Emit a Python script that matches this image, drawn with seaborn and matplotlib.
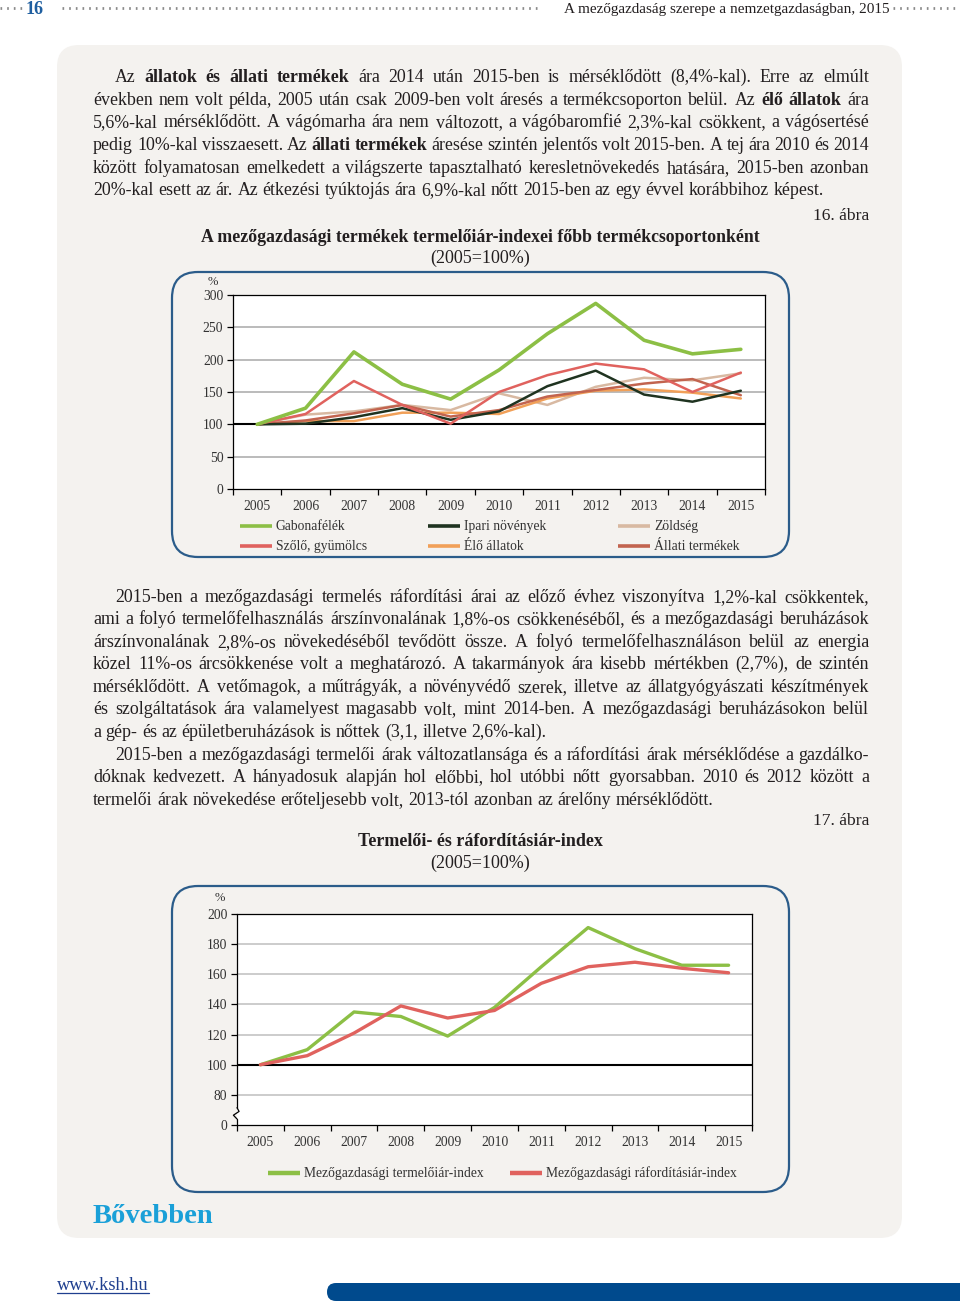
import matplotlib
matplotlib.use("Agg")
import matplotlib.pyplot as plt
import seaborn as sns
import numpy as np
import pandas as pd
from matplotlib.patches import FancyBboxPatch
from matplotlib.ticker import FixedLocator

sns.set_theme(style="white")
plt.rcParams['font.family'] = ['Liberation Serif', 'DejaVu Serif']

# ---------------- data ----------------
years = list(range(2005, 2016))
gabona = [100, 125, 212, 162, 139, 184, 240, 287, 230, 209, 216]
ipari = [100, 101, 111, 125, 107, 120, 159, 183, 146, 135, 152]
zoldseg = [100, 115, 120, 130, 122, 148, 130, 158, 172, 168, 179]
szolo = [100, 116, 167, 130, 101, 150, 176, 194, 185, 150, 180]
elo = [100, 105, 105, 118, 118, 116, 140, 152, 154, 149, 140]
allati = [100, 106, 117, 130, 112, 122, 143, 153, 163, 170, 145]
names1 = ["Gabonafélék", "Ipari növények", "Zöldség",
          "Szőlő, gyümölcs", "Élő állatok", "Állati termékek"]
values1 = [gabona, ipari, zoldseg, szolo, elo, allati]
y1_ticks = [0, 50, 100, 150, 200, 250, 300]

termelo = [100, 110, 135, 132, 119, 138, 165, 191, 177, 166, 166]
raford = [100, 106, 121, 139, 131, 136, 154, 165, 168, 164, 161]
names2 = ["Mezőgazdasági termelőiár-index", "Mezőgazdasági ráfordításiár-index"]
values2 = [termelo, raford]
y2_ticks = [60, 80, 100, 120, 140, 160, 180, 200]
y2_labels = ["0", "80", "100", "120", "140", "160", "180", "200"]

colors1 = {"Gabonafélék": "#8CBF45", "Ipari növények": "#1F3320",
           "Zöldség": "#D8B9A2", "Szőlő, gyümölcs": "#E0625E",
           "Élő állatok": "#F1A058", "Állati termékek": "#C2644F"}
widths1 = {"Gabonafélék": 2.6, "Ipari növények": 1.8, "Zöldség": 1.8,
           "Szőlő, gyümölcs": 1.8, "Élő állatok": 1.8, "Állati termékek": 1.8}
draw_order1 = ["Zöldség", "Élő állatok", "Állati termékek",
               "Ipari növények", "Szőlő, gyümölcs", "Gabonafélék"]
colors2 = {names2[0]: "#8CBF45", names2[1]: "#E0625E"}

df1 = pd.DataFrame({"Év": years * len(names1),
                    "Index": sum(values1, []),
                    "Csoport": np.repeat(names1, len(years))})
df2 = pd.DataFrame({"Év": years * len(names2),
                    "Index": sum(values2, []),
                    "Csoport": np.repeat(names2, len(years))})

# ---------------- page ----------------
W, H = 960, 1308
fig = plt.figure(figsize=(W / 100, H / 100), dpi=100)
fig.patch.set_facecolor("white")
bg = fig.add_axes([0, 0, 1, 1])
bg.set_xlim(0, W)
bg.set_ylim(H, 0)
bg.axis("off")
renderer = fig.canvas.get_renderer()

TXT = "#231F20"
PANEL = "#F4F2EF"
BORDER = "#2B5C8A"


def fx(x):
    return x / W


def fy(y):
    return 1 - y / H


# background panel
bg.add_patch(FancyBboxPatch((57, 45), 845, 1193,
                            boxstyle="round,pad=0,rounding_size=22",
                            fc=PANEL, ec="none", zorder=0))
# chart boxes
for (x0, y0, x1, y1) in [(172, 272, 789, 557), (172, 886, 789, 1192)]:
    bg.add_patch(FancyBboxPatch((x0, y0), x1 - x0, y1 - y0,
                                boxstyle="round,pad=0,rounding_size=26",
                                fc=PANEL, ec=BORDER, lw=1.6, zorder=1))

# header
for (a, b) in [(0, 26), (62, 540), (893, 960)]:
    bg.plot([a, b], [8, 8], color="#8A8A8A", lw=2.0, linestyle=(0, (0.6, 1.8)))
bg.text(35, 13.5, "16", color="#1F5FA0", fontsize=13, fontweight="bold",
        ha="center", va="baseline")
bg.text(890, 12.5, "A mezőgazdaság szerepe a nemzetgazdaságban, 2015",
        color=TXT, fontsize=11, ha="right", va="baseline")

FS = 12.9
space_w = FS * 100 / 72 * 0.25


def put_line(segs, x0, x1, yb, justify=True):
    words = []
    for text, bold in segs:
        for w in text.split():
            words.append((w, bold))
    arts, ws = [], []
    for w, b in words:
        t = bg.text(0, yb, w, fontsize=FS, color=TXT, va="baseline", ha="left",
                    fontweight="bold" if b else "normal")
        arts.append(t)
        ws.append(t.get_window_extent(renderer=renderer).width)
    if justify and len(words) > 1:
        gap = (x1 - x0 - sum(ws)) / (len(words) - 1)
        gap = max(gap, 1.5)
    else:
        gap = space_w
    x = x0
    for t, w in zip(arts, ws):
        t.set_x(x)
        x += w + gap


N = False
B = True
para1 = [
    [("Az", N), ("állatok és állati termékek", B), ("ára 2014 után 2015-ben is mérséklődött (8,4%-kal). Erre az elmúlt", N)],
    [("években nem volt példa, 2005 után csak 2009-ben volt áresés a termékcsoporton belül. Az", N), ("élő állatok", B), ("ára", N)],
    [("5,6%-kal mérséklődött. A vágómarha ára nem változott, a vágóbaromfié 2,3%-kal csökkent, a vágósertésé", N)],
    [("pedig 10%-kal visszaesett. Az", N), ("állati termékek", B), ("áresése szintén jelentős volt 2015-ben. A tej ára 2010 és 2014", N)],
    [("között folyamatosan emelkedett a világszerte tapasztalható keresletnövekedés hatására, 2015-ben azonban", N)],
    [("20%-kal esett az ár. Az étkezési tyúktojás ára 6,9%-kal nőtt 2015-ben az egy évvel korábbihoz képest.", N)],
]
ys1 = [82, 105, 127, 150, 173, 195]
for i, (segs, yb) in enumerate(zip(para1, ys1)):
    put_line(segs, 115 if i == 0 else 93, 869, yb, justify=(i < len(para1) - 1))

para2 = [
    ("2015-ben a mezőgazdasági termelés ráfordítási árai az előző évhez viszonyítva 1,2%-kal csökkentek,", 115, True),
    ("ami a folyó termelőfelhasználás árszínvonalának 1,8%-os csökkenéséből, és a mezőgazdasági beruházások", 93, True),
    ("árszínvonalának 2,8%-os növekedéséből tevődött össze. A folyó termelőfelhasználáson belül az energia", 93, True),
    ("közel 11%-os árcsökkenése volt a meghatározó. A takarmányok ára kisebb mértékben (2,7%), de szintén", 93, True),
    ("mérséklődött. A vetőmagok, a műtrágyák, a növényvédő szerek, illetve az állatgyógyászati készítmények", 93, True),
    ("és szolgáltatások ára valamelyest magasabb volt, mint 2014-ben. A mezőgazdasági beruházásokon belül", 93, True),
    ("a gép- és az épületberuházások is nőttek (3,1, illetve 2,6%-kal).", 93, False),
    ("2015-ben a mezőgazdasági termelői árak változatlansága és a ráfordítási árak mérséklődése a gazdálko-", 115, True),
    ("dóknak kedvezett. A hányadosuk alapján hol előbbi, hol utóbbi nőtt gyorsabban. 2010 és 2012 között a", 93, True),
    ("termelői árak növekedése erőteljesebb volt, 2013-tól azonban az árelőny mérséklődött.", 93, False),
]
ys2 = [602, 624, 647, 669, 692, 714, 737, 760, 782, 805]
for (txt, x0, just), yb in zip(para2, ys2):
    put_line([(txt, N)], x0, 869, yb, justify=just)

# captions and titles
bg.text(869, 220, "16. ábra", fontsize=12.6, color=TXT, ha="right", va="baseline")
bg.text(480, 242, "A mezőgazdasági termékek termelőiár-indexei főbb termékcsoportonként",
        fontsize=12.8, fontweight="bold", color=TXT, ha="center", va="baseline")
bg.text(480, 263, "(2005=100%)", fontsize=13, color=TXT, ha="center", va="baseline")
bg.text(869, 825, "17. ábra", fontsize=12.6, color=TXT, ha="right", va="baseline")
bg.text(480, 846, "Termelői- és ráfordításiár-index",
        fontsize=13, fontweight="bold", color=TXT, ha="center", va="baseline")
bg.text(480, 868, "(2005=100%)", fontsize=13, color=TXT, ha="center", va="baseline")

TICK_FS = 9.8
TICK_C = "#333333"


def style_axes(ax):
    ax.set_facecolor("white")
    for s in ax.spines.values():
        s.set_visible(True)
        s.set_color("black")
        s.set_linewidth(0.9)
    ax.set_xlim(2004.5, 2015.5)
    ax.set_xticks(years)
    ax.set_xticklabels([str(y) for y in years])
    ax.xaxis.set_minor_locator(FixedLocator([y + 0.5 for y in range(2004, 2016)]))
    ax.tick_params(axis="x", which="major", length=0, pad=8,
                   labelsize=TICK_FS, labelcolor=TICK_C)
    ax.tick_params(axis="x", which="minor", length=4, width=0.9,
                   direction="out", color="black", bottom=True)
    ax.tick_params(axis="y", which="major", length=4, width=0.9, direction="out",
                   color="black", left=True, pad=3, labelsize=TICK_FS,
                   labelcolor=TICK_C)
    ax.set_xlabel("")
    ax.set_ylabel("")
    ax.grid(False)


# ---------------- chart 1 ----------------
ax1 = fig.add_axes([fx(233), fy(489), (765 - 233) / W, (489 - 295) / H])
ax1.set_zorder(2)
for yv in y1_ticks:
    if yv not in (0, 100, 300):
        ax1.axhline(yv, color="#B5B5B5", lw=1.3, zorder=1)
ax1.axhline(100, color="black", lw=1.5, zorder=1.5)
for nm in draw_order1:
    sns.lineplot(data=df1[df1["Csoport"] == nm], x="Év", y="Index",
                 color=colors1[nm], linewidth=widths1[nm], ax=ax1,
                 legend=False, zorder=3)
style_axes(ax1)
ax1.set_ylim(0, 300)
ax1.set_yticks(y1_ticks)
ax1.set_yticklabels([str(v) for v in y1_ticks])
bg.text(213, 285, "%", fontsize=9, color=TICK_C, ha="center", va="baseline")

# legend 1 (3 columns x 2 rows)
leg_cols = [240, 428, 618]
leg_rows = [526, 546]
for i, nm in enumerate(names1):
    r, c = divmod(i, 3)
    x0 = leg_cols[c]
    yy = leg_rows[r]
    bg.plot([x0, x0 + 32], [yy, yy], color=colors1[nm], lw=2.6,
            solid_capstyle="butt", zorder=3)
    bg.text(x0 + 36, yy + 4, nm, fontsize=9.8, color=TICK_C, ha="left",
            va="baseline", zorder=3)

# ---------------- chart 2 ----------------
ax2 = fig.add_axes([fx(237), fy(1125), (752 - 237) / W, (1125 - 914) / H])
ax2.set_zorder(2)
for yv in y2_ticks:
    if yv not in (60, 100, 200):
        ax2.axhline(yv, color="#C8C8C8", lw=1.3, zorder=1)
ax2.axhline(100, color="black", lw=1.5, zorder=1.5)
for nm in names2:
    sns.lineplot(data=df2[df2["Csoport"] == nm], x="Év", y="Index",
                 color=colors2[nm], linewidth=2.4, ax=ax2, legend=False, zorder=3)
style_axes(ax2)
ax2.set_ylim(60, 200)
ax2.set_yticks(y2_ticks)
ax2.set_yticklabels(y2_labels)
# axis break on the left spine
ax2.spines["left"].set_visible(False)
tr = ax2.get_yaxis_transform()
ax2.plot([0, 0], [60, 64], color="black", lw=0.9, transform=tr, clip_on=False, zorder=4)
ax2.plot([0, -0.007, 0.004, 0], [64, 66.5, 69, 71.5], color="black", lw=0.9,
         transform=tr, clip_on=False, zorder=4)
ax2.plot([0, 0], [71.5, 200], color="black", lw=0.9, transform=tr, clip_on=False, zorder=4)
bg.text(220, 901, "%", fontsize=9, color=TICK_C, ha="center", va="baseline")

# legend 2
for (x0, nm) in zip([268, 510], names2):
    bg.plot([x0, x0 + 32], [1173, 1173], color=colors2[nm], lw=3.2,
            solid_capstyle="butt", zorder=3)
    bg.text(x0 + 36, 1177, nm, fontsize=9.8, color=TICK_C, ha="left",
            va="baseline", zorder=3)

# footer
bg.text(93, 1223, "Bővebben", fontsize=20.5, fontweight="bold", color="#1AA0D8",
        ha="left", va="baseline", zorder=3)
t = bg.text(57, 1290, "www.ksh.hu", fontsize=13.2, color="#1F3F8F",
            ha="left", va="baseline", zorder=3)
wlink = t.get_window_extent(renderer=renderer).width
bg.plot([57, 57 + wlink], [1293, 1293], color="#1F3F8F", lw=0.9)
bg.add_patch(FancyBboxPatch((327, 1283), 700, 18,
                            boxstyle="round,pad=0,rounding_size=9",
                            fc="#004A8D", ec="none", zorder=2))

fig.savefig("out.png", dpi=100, facecolor="white")
